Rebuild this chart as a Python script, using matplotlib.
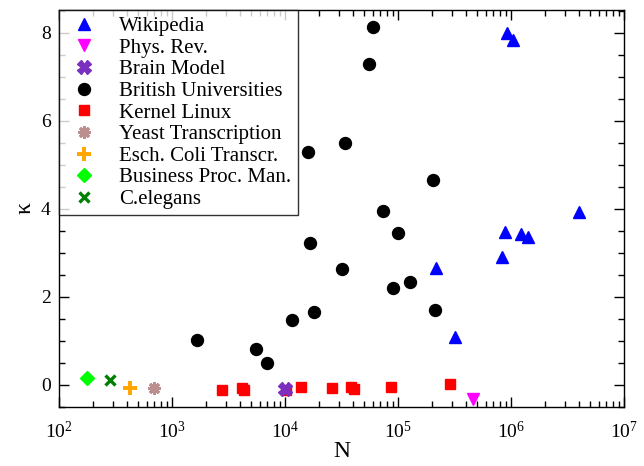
import matplotlib
matplotlib.use("Agg")
import matplotlib.pyplot as plt
from matplotlib.ticker import LogLocator, MultipleLocator

plt.rcParams['font.family'] = ['Liberation Serif', 'DejaVu Serif']
plt.rcParams['mathtext.fontset'] = 'custom'
plt.rcParams['mathtext.rm'] = 'Liberation Serif'

# N (network size) and kappa for each data set
wiki_N = [9.3e5, 1.04e6, 8.8e5, 8.4e5, 1.22e6, 1.41e6, 3.97e6, 2.19e5, 3.19e5]
wiki_k = [7.99, 7.84, 3.47, 2.90, 3.43, 3.37, 3.93, 2.65, 1.10]

phys_N = [4.6e5]
phys_k = [-0.32]

brain_N = [1.0e4]
brain_k = [-0.09]

brit_N = [1670, 5540, 6980, 11500, 18100, 16600, 31900, 73600, 1.0e5,
          9.1e4, 1.29e5, 2.14e5, 2.03e5, 6.0e4, 5.5e4, 1.61e4, 3.37e4]
brit_k = [1.02, 0.81, 0.49, 1.48, 1.66, 3.23, 2.64, 3.96, 3.46,
          2.21, 2.33, 1.70, 4.66, 8.13, 7.30, 5.30, 5.49]

linux_N = [2750, 4150, 4330, 1.02e4, 1.39e4, 2.62e4, 3.87e4, 4.11e4, 8.6e4, 2.88e5]
linux_k = [-0.12, -0.07, -0.11, -0.12, -0.05, -0.075, -0.04, -0.1, -0.045, 0.015]

yeast_N = [693]
yeast_k = [-0.07]

ecoli_N = [424]
ecoli_k = [-0.075]

bpm_N = [176]
bpm_k = [0.15]

eleg_N = [281]
eleg_k = [0.11]

fig = plt.figure(figsize=(6.44, 4.66), dpi=100)
ax = fig.add_axes([59/644, 1-407/466, (624-59)/644, (407-10)/466])

ax.plot(wiki_N, wiki_k, '^', color='#0000ff', ms=9, ls='none', label='Wikipedia')
ax.plot(phys_N, phys_k, 'v', color='#ff00ff', ms=9, ls='none', label='Phys. Rev.')
ax.plot(brain_N, brain_k, 'X', color='#7b2fbe', ms=10, ls='none', label='Brain Model', zorder=4)
ax.plot(brit_N, brit_k, 'o', color='black', ms=8.6, ls='none', label='British Universities')
ax.plot(linux_N, linux_k, 's', color='#ff0000', ms=7.7, ls='none', label='Kernel Linux')
ax.plot(yeast_N, yeast_k, marker=(8, 2, 0), color='#bc8f8f', ms=9, mew=2.2, ls='none',
        label='Yeast Transcription')
ax.plot(ecoli_N, ecoli_k, '+', color='#ffa500', ms=9.5, mew=2.8, ls='none',
        label='Esch. Coli Transcr.')
ax.plot(bpm_N, bpm_k, 'D', color='#00ff00', ms=7.5, ls='none', label='Business Proc. Man.')
ax.plot(eleg_N, eleg_k, 'x', color='#008000', ms=7, mew=2.4, ls='none', label='C.elegans')

ax.set_xscale('log')
ax.set_xlim(1e2, 1e7)
ax.set_ylim(-0.5, 8.52)
ax.xaxis.set_major_locator(LogLocator(base=10, numticks=10))
ax.xaxis.set_minor_locator(LogLocator(base=10, subs=range(2, 10), numticks=50))
ax.yaxis.set_major_locator(MultipleLocator(2))
ax.yaxis.set_minor_locator(MultipleLocator(0.5))

ax.tick_params(which='both', direction='in', top=True, right=True, labelsize=14)
ax.tick_params(which='major', length=7.5, width=1)
ax.tick_params(which='minor', length=4, width=1)
ax.tick_params(axis='x', which='major', pad=10)
ax.tick_params(axis='y', which='major', pad=6)
for s in ax.spines.values():
    s.set_linewidth(1.0)

ax.set_xlabel('N', fontsize=17, labelpad=-1)
ax.set_ylabel('κ', fontsize=17, labelpad=4)

leg = ax.legend(loc='upper left', fontsize=15, numpoints=1, frameon=True, fancybox=False,
                borderaxespad=0, borderpad=0.3, labelspacing=0.1,
                handlelength=1.8, handletextpad=0.8)
leg.get_frame().set_edgecolor('black')
leg.get_frame().set_linewidth(1.0)

fig.savefig('out.png', dpi=100)
